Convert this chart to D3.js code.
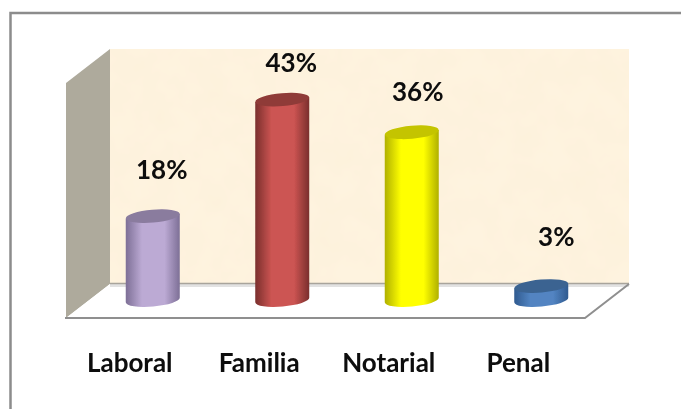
<!DOCTYPE html>
<html>
<head>
<meta charset="utf-8">
<script src="https://cdn.jsdelivr.net/npm/d3@7"></script>
<style>
  html, body { margin: 0; background: #fff; }
  text { font-family: Lato, sans-serif; font-weight: 700; fill: #0a0a0a; }
</style>
</head>
<body>
<div id="chart"></div>
<script>
const categories = ["Laboral", "Familia", "Notarial", "Penal"];
const percents = [18, 43, 36, 3];
const barColors = ["#bcaad4", "#cc5452", "#ffff00", "#5284c2"];
const topColors = ["#8a7b9e", "#8f3a37", "#c4c400", "#3a6391"];
const edgeColors = ["#7d6f96", "#7a2f2d", "#b0b000", "#2f5a8f"];

const width = 681,
    height = 409,
    margin = ({ top: 67, bottom: 109 }),
    depth = ({ x: 44, y: 34 });

let svg = d3.select("#chart")
    .append("svg")
    .attr("width", width)
    .attr("height", height)
    .style("display", "block");

let x = d3.scaleBand()
    .domain(categories)
    .range([88, 606]);

let y = d3.scaleLinear()
    .domain([0, 50])
    .range([height - margin.bottom, margin.top]);

const defs = svg.append("defs");

// parchment look on the walls
let paper = defs.append("filter").attr("id", "paper")
    .attr("x", 0).attr("y", 0).attr("width", 1).attr("height", 1);
paper.append("feTurbulence")
    .attr("type", "fractalNoise").attr("baseFrequency", 0.035)
    .attr("numOctaves", 3).attr("seed", 7).attr("result", "n");
paper.append("feColorMatrix").attr("in", "n").attr("type", "matrix")
    .attr("values", "0 0 0 0 0.93  0 0 0 0 0.82  0 0 0 0 0.6  0.3 0 0 0 -0.08")
    .attr("result", "tint");
paper.append("feComposite").attr("in", "tint").attr("in2", "SourceGraphic").attr("operator", "atop");

defs.append("filter").attr("id", "soft")
    .append("feGaussianBlur").attr("stdDeviation", 0.35);

categories.forEach((c, i) => {
    let grad = defs.append("linearGradient").attr("id", "bar" + i);
    [[0, edgeColors[i]], [0.3, barColors[i]], [0.72, barColors[i]], [1, edgeColors[i]]]
        .forEach(s => grad.append("stop").attr("offset", s[0]).attr("stop-color", s[1]));
});

// walls and floor
const backLeft = x.range()[0] + depth.x / 2,
    backRight = x.range()[1] + depth.x / 2 + 1,
    backTop = 49,
    backBottom = 284,
    frontLeft = backLeft - depth.x,
    frontRight = backRight - depth.x,
    frontBottom = backBottom + depth.y;

let frame = svg.append("g").attr("filter", "url(#soft)");

frame.append("path")
    .attr("d", `M10.5,${height}V13H${width}`)
    .attr("fill", "none")
    .attr("stroke", "#8c8c8c")
    .attr("stroke-width", 2.5);

frame.append("rect")
    .attr("x", backLeft)
    .attr("y", backTop)
    .attr("width", backRight - backLeft)
    .attr("height", backBottom - backTop)
    .attr("fill", "#fef3df")
    .attr("filter", "url(#paper)");

frame.append("path")
    .attr("d", `M${frontLeft},${backTop + depth.y}L${backLeft},${backTop}V${backBottom}L${frontLeft},${frontBottom}Z`)
    .attr("fill", "#aeaa9c");

frame.append("path")
    .attr("d", `M${backLeft},${backBottom}H${backRight}L${frontRight},${frontBottom}H${frontLeft}Z`)
    .attr("fill", "#fff");

frame.append("rect") // thin back edge of the floor
    .attr("x", backLeft)
    .attr("y", backBottom)
    .attr("width", backRight - backLeft)
    .attr("height", 3)
    .attr("fill", "#e2e2e2");

frame.append("path")
    .attr("d", `M${backLeft},${backBottom - 0.5}H${backRight}`)
    .attr("stroke", "#a8a49c")
    .attr("stroke-width", 1.5);

frame.append("path")
    .attr("d", `M${frontLeft - 1},${frontBottom}H${frontRight}L${backRight},${backBottom}`)
    .attr("fill", "none")
    .attr("stroke", "#8f8f8f")
    .attr("stroke-width", 2);

// cylinders
const rx = 27, ry = 6.5, tilt = -5;
const dy = rx * Math.sin(-tilt * Math.PI / 180);

let bar = svg.selectAll(".bar")
    .data(categories)
    .join("g")
    .attr("class", "bar")
    .attr("filter", "url(#soft)")
    .attr("transform", d => `translate(${x(d) + x.bandwidth() / 2},0)`);

bar.append("path")
    .attr("fill", (d, i) => `url(#bar${i})`)
    .attr("d", (d, i) => {
        let t = y(percents[i]), b = y(0);
        return `M${-rx},${t + dy}V${b + dy}A${rx},${ry} ${tilt} 0 0 ${rx},${b - dy}V${t - dy}Z`;
    });

bar.append("ellipse")
    .attr("rx", rx)
    .attr("ry", ry)
    .attr("transform", (d, i) => `translate(0,${y(percents[i])}) rotate(${tilt})`)
    .attr("fill", (d, i) => topColors[i]);

// percent labels, they sit a bit off the bars in the original
const labelShift = [[9, -37], [9, -28], [6, -31], [15, -40]];

svg.selectAll(".pct")
    .data(categories)
    .join("text")
    .attr("class", "pct")
    .attr("filter", "url(#soft)")
    .attr("text-anchor", "middle")
    .attr("font-size", 26)
    .attr("x", (d, i) => x(d) + x.bandwidth() / 2 + labelShift[i][0])
    .attr("y", (d, i) => y(percents[i]) + labelShift[i][1])
    .text((d, i) => percents[i] + "%");

// category axis is offset to the left of the bars
let axis = svg.append("g")
    .attr("transform", `translate(-23,${frontBottom + 36})`)
    .call(d3.axisBottom(x).tickSize(0).tickPadding(0));

axis.select(".domain").remove();
axis.selectAll("text")
    .attr("filter", "url(#soft)")
    .attr("font-size", 26)
    .attr("dy", "0.71em")
    .style("font-family", "Lato, sans-serif");
</script>
</body>
</html>
